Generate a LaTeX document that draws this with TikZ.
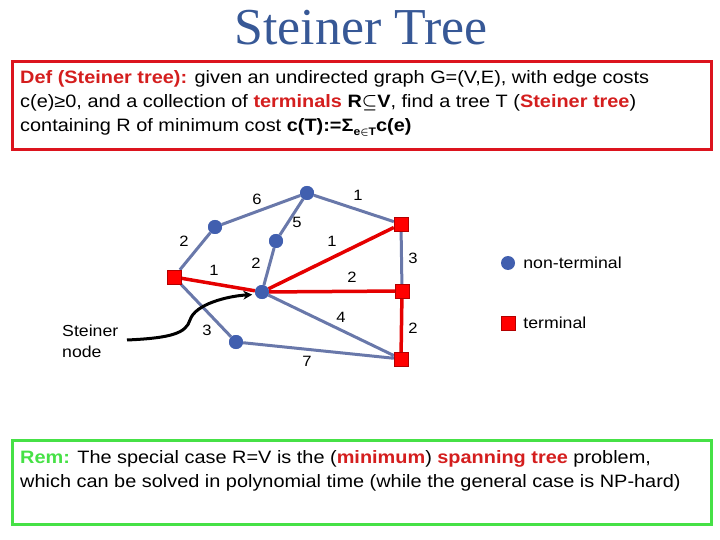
\documentclass[tikz,border=0pt]{standalone}
\usepackage[usenames,dvipsnames,svgnames,table]{xcolor}
\usepackage{fontspec}
\setmainfont[FakeStretch=1.11]{Liberation Sans}
\newfontfamily\titlefont{Liberation Serif}
\usepackage{tikz}
\usetikzlibrary{arrows.meta,positioning}

\definecolor{titleblue}{RGB}{55,88,150}
\definecolor{boxred}{RGB}{220,20,30}
\definecolor{defred}{RGB}{212,30,30}
\definecolor{remgreen}{RGB}{70,225,70}
\definecolor{edgeblue}{RGB}{105,120,170}
\definecolor{nodeblue}{RGB}{65,95,175}
\definecolor{termred}{RGB}{255,0,0}

\tikzset{
  nonterm/.style={circle,fill=nodeblue,inner sep=0pt,minimum size=14bp},
  term/.style={rectangle,fill=termred,draw=red!70!black,line width=0.4bp,inner sep=0pt,minimum size=14bp},
  bedge/.style={draw=edgeblue,line width=3bp},
  redge/.style={draw=termred!90!black,line width=3.5bp},
  cost/.style={font=\fontsize{15}{15}\selectfont,inner sep=0pt},
  body/.style={font=\fontsize{18}{24}\selectfont,align=left,inner sep=0pt}
}

\begin{document}
\begin{tikzpicture}[x=1bp,y=-1bp]
        \useasboundingbox (0,0) rectangle (720,540);
        \node[text=titleblue,font=\titlefont\fontsize{52}{52}\selectfont] (title) at (361,28) {Steiner Tree};
        % definition box
        \draw[boxred,line width=3bp] (12,62) rectangle (711,150);
        \node[body,anchor=north west] (def) at (20,70) {\textcolor{defred}{\textbf{Def (Steiner tree):}} given an undirected graph G=(V,E), with edge costs\\
        c(e)≥0, and a collection of \textcolor{defred}{\textbf{terminals}} \textbf{R}{\boldmath$\subseteq$}\textbf{V}, find a tree T (\textcolor{defred}{\textbf{Steiner tree}})\\
        containing R of minimum cost \textbf{c(T):=Σ\raisebox{-4bp}{\fontsize{11}{11}\selectfont e{\boldmath$\in$}T}c(e)}};
        % graph
        \node[nonterm] (top) at (307,193) {};
        \node[nonterm] (ul) at (215,227) {};
        \node[nonterm] (mid) at (276,241) {};
        \node[nonterm] (stn) at (262,292) {};
        \node[nonterm] (ll) at (236,342) {};
        \node[term] (tl) at (174,277) {};
        \node[term] (tr1) at (401,224) {};
        \node[term] (tr2) at (402,291) {};
        \node[term] (tr3) at (401,359) {};
        \path[bedge] (ul) -- (top) (top) -- (tr1) (top) -- (mid) (tl) -- (ul) (mid) -- (stn)
              (tr1) -- (tr2) (stn) -- (tr3) (tl) -- (ll) (ll) -- (tr3);
        \path[redge] (tl) -- (stn) (stn) -- (tr1) (stn) -- (tr2) (tr2) -- (tr3);
        % redraw nodes on top of the edges
        \foreach \n/\s in {top/nonterm,ul/nonterm,mid/nonterm,stn/nonterm,ll/nonterm,tl/term,tr1/term,tr2/term,tr3/term}
            \node[\s] at (\n) {};
        % edge costs
        \node[cost] (c6) at (257,199) {6};
        \node[cost] (c1a) at (358,195) {1};
        \node[cost] (c5) at (297,222) {5};
        \node[cost] (c2a) at (184,241) {2};
        \node[cost] (c1b) at (332,241) {1};
        \node[cost] (c3a) at (413,258) {3};
        \node[cost] (c2b) at (256,263) {2};
        \node[cost] (c1c) at (214,270) {1};
        \node[cost] (c2c) at (352,277) {2};
        \node[cost] (c4) at (341,317) {4};
        \node[cost] (c2d) at (413,328) {2};
        \node[cost] (c3b) at (207,330) {3};
        \node[cost] (c7) at (307,361) {7};
        % steiner node pointer
        \node[font=\fontsize{16}{21}\selectfont,align=left,anchor=west,inner sep=0pt] (stlabel) at (62,341) {Steiner\\node};
        \draw[line width=3bp,-{Stealth[length=9bp,width=9bp]},shorten >=3bp] (127,340) .. controls (172,338) and (186,333) .. (190,320)
              .. controls (195,304) and (228,296) .. (stn.200);
        % legend
        \node[nonterm] (legnt) at (508,263) {};
        \node[font=\fontsize{16}{16}\selectfont,inner sep=0pt,right=8bp of legnt] (legnttext) {non-terminal};
        \node[term] (legt) at (508,323) {};
        \node[font=\fontsize{16}{16}\selectfont,inner sep=0pt,right=8bp of legt] (legttext) {terminal};
        % remark box
        \draw[remgreen,line width=3bp] (12,440) rectangle (711,524);
        \node[body,anchor=north west] (rem) at (20,450) {\textcolor{remgreen}{\textbf{Rem:}} The special case R=V is the (\textcolor{defred}{\textbf{minimum}}) \textcolor{defred}{\textbf{spanning tree}} problem,\\
        which can be solved in polynomial time (while the general case is NP-hard)};
    \end{tikzpicture}
\end{document}
